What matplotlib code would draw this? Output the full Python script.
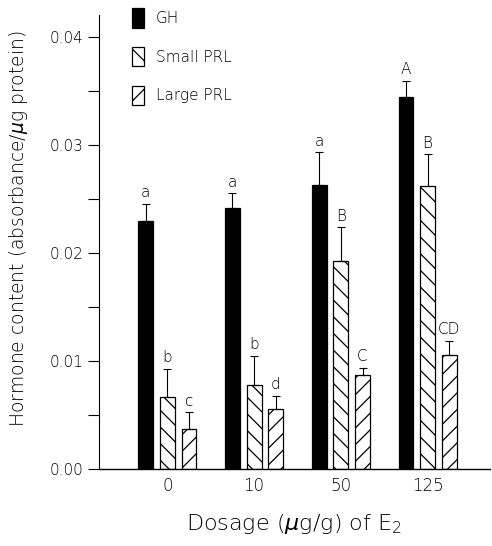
import matplotlib
matplotlib.use("Agg")
import matplotlib.pyplot as plt
import numpy as np

plt.rcParams['font.family'] = ['DejaVu Sans']
plt.rcParams['font.weight'] = 'light'
plt.rcParams['axes.labelweight'] = 'light'
plt.rcParams['hatch.linewidth'] = 0.9
plt.rcParams['mathtext.fontset'] = 'custom'
plt.rcParams['mathtext.rm'] = 'DejaVu Sans:light'
plt.rcParams['mathtext.it'] = 'DejaVu Sans:italic'
plt.rcParams['mathtext.default'] = 'it'

dosages = ["0", "10", "50", "125"]
series = ["GH", "Small PRL", "Large PRL"]
gh = [0.0230, 0.0242, 0.0263, 0.0345]
gh_err = [0.0016, 0.0014, 0.0031, 0.0015]
small_prl = [0.0067, 0.0078, 0.0193, 0.0262]
small_err = [0.0026, 0.0027, 0.0031, 0.0030]
large_prl = [0.0037, 0.0056, 0.0087, 0.0106]
large_err = [0.0016, 0.0012, 0.0007, 0.0013]
gh_letters = ["a", "a", "a", "A"]
small_letters = ["b", "b", "B", "B"]
large_letters = ["c", "d", "C", "CD"]

fig = plt.figure(figsize=(4.92, 5.46), dpi=100)
ax = fig.add_axes([0.201, 0.141, 0.795, 0.832])

x = np.arange(len(dosages))
w = 0.17
off = 0.25
styles = [dict(color="black", hatch=None),
          dict(color="white", hatch="\\\\"),
          dict(color="white", hatch="//")]
data = [(gh, gh_err, gh_letters), (small_prl, small_err, small_letters),
        (large_prl, large_err, large_letters)]
for i, ((vals, errs, letters), st, name) in enumerate(zip(data, styles, series)):
    pos = x + (i - 1) * off
    ax.bar(pos, vals, width=w, color=st["color"], edgecolor="black",
           hatch=st["hatch"], linewidth=0.9, label=name, zorder=2)
    ax.errorbar(pos, vals, yerr=[np.zeros(len(vals)), errs], fmt="none",
                ecolor="black", elinewidth=0.8, capsize=3, capthick=0.8, zorder=3)
    for p, v, e, t in zip(pos, vals, errs, letters):
        ax.text(p, v + e + 0.0003, t, ha="center", va="bottom", fontsize=11)

ax.set_xlim(-0.79, 3.72)
ax.set_ylim(0, 0.0421)
ax.set_yticks([0, 0.01, 0.02, 0.03, 0.04])
ax.set_yticklabels(["0.00", "0.01", "0.02", "0.03", "0.04"], fontsize=11)
ax.set_yticks(np.arange(0.005, 0.041, 0.01), minor=True)
ax.tick_params(axis="y", which="major", length=8, width=0.8, direction="out", pad=3)
ax.tick_params(axis="y", which="minor", length=8, width=0.8, direction="out")
ax.set_xticks(x)
ax.set_xticklabels(dosages, fontsize=12)
ax.tick_params(axis="x", length=0, pad=6)
for s in ["top", "right"]:
    ax.spines[s].set_visible(False)
ax.spines["left"].set_linewidth(0.8)
ax.spines["bottom"].set_linewidth(1.0)

ax.set_xlabel(r"Dosage ($\mu$g/g) of E$_\mathrm{2}$", fontsize=16, labelpad=12)
ax.set_ylabel(r"Hormone content (absorbance/$\mu$g protein)", fontsize=13.5)
ax.yaxis.set_label_coords(-0.175, 0.53)

leg = ax.legend(loc="upper left", bbox_to_anchor=(0.05, 1.045), frameon=False,
                fontsize=11, handlelength=0.75, handleheight=1.6, labelspacing=1.25,
                handletextpad=0.8)

fig.savefig("out.png", dpi=100)
